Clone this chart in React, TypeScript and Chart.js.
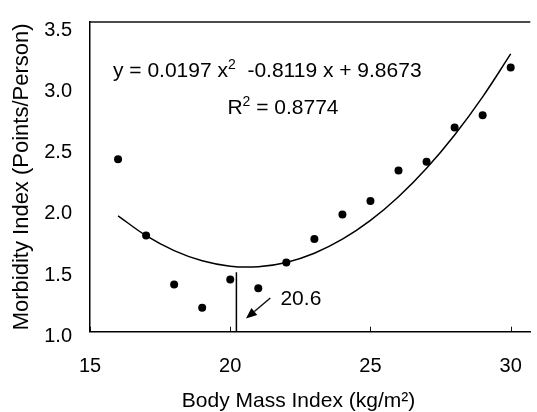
import { useEffect, useRef } from "react";
import { Chart, registerables } from "chart.js";

Chart.register(...registerables);

// ---- data ----
const bmiValues = [16, 17, 18, 19, 20, 21, 22, 23, 24, 25, 26, 27, 28, 29, 30];
const morbidityValues = [2.38, 1.76, 1.36, 1.17, 1.4, 1.33, 1.54, 1.73, 1.93, 2.04, 2.29, 2.36, 2.64, 2.74, 3.13];

// fitted curve as drawn in the reference (quadratic trend line)
const fitBmi = [16, 17, 18, 19, 20, 21, 22, 23, 24, 25, 26, 27, 28, 29, 30];
const fitValues = [1.92, 1.758, 1.636, 1.553, 1.509, 1.505, 1.54, 1.615, 1.729, 1.882, 2.075, 2.307, 2.579, 2.89, 3.24];

const xTicks = [15, 20, 25, 30];
const yTicks = [1.0, 1.5, 2.0, 2.5, 3.0, 3.5];

const xMin = 15;
const xMax = 30.7;
const yMin = 0.975;
const yMax = 3.5;

const thresholdBmi = 20.22;
const thresholdTop = 1.46;
const thresholdLabel = "20.6";
const arrowFrom = [21.43, 1.25];
const arrowTo = [20.56, 1.082];
const thresholdLabelPos = [21.79, 1.236];

const equationParts = ["y = 0.0197 x", "2", "  -0.8119 x + 9.8673"];
const equationPos = [21.32, 3.054];
const r2Parts = ["R", "2", " = 0.8774"];
const r2Pos = [21.88, 2.751];

const xTitle = "Body Mass Index (kg/m\u00B2)";
const yTitle = "Morbidity Index (Points/Person)";

const FONT = "'Liberation Sans', Arial, Helvetica, sans-serif";

function drawRich(ctx: CanvasRenderingContext2D, parts: string[], cx: number, baseline: number) {
  const main = `21px ${FONT}`;
  const sup = `14px ${FONT}`;
  const widths = parts.map((p, i) => {
    ctx.font = i % 2 === 1 ? sup : main;
    return ctx.measureText(p).width;
  });
  const total = widths.reduce((a, b) => a + b, 0);
  let x = cx - total / 2;
  ctx.textAlign = "left";
  ctx.textBaseline = "alphabetic";
  parts.forEach((p, i) => {
    const isSup = i % 2 === 1;
    ctx.font = isSup ? sup : main;
    ctx.fillText(p, x, isSup ? baseline - 8 : baseline);
    x += widths[i];
  });
}

const annotationPlugin = {
  id: "annotations",
  afterDatasetsDraw(chart: any) {
    const { ctx, chartArea, scales } = chart;
    const xs = scales.x;
    const ys = scales.y;
    ctx.save();
    ctx.strokeStyle = "#111";
    ctx.fillStyle = "#000";
    ctx.lineWidth = 1.5;
    // top frame line
    ctx.beginPath();
    ctx.moveTo(chartArea.left, chartArea.top);
    ctx.lineTo(chartArea.right, chartArea.top);
    ctx.stroke();
    // small inward ticks on the x axis
    ctx.lineWidth = 1;
    ctx.beginPath();
    for (const t of xTicks) {
      const px = Math.round(xs.getPixelForValue(t)) + 0.5;
      ctx.moveTo(px, chartArea.bottom);
      ctx.lineTo(px, chartArea.bottom - 5);
    }
    ctx.stroke();

    // equation text
    drawRich(ctx, equationParts, xs.getPixelForValue(equationPos[0]), ys.getPixelForValue(equationPos[1]));
    drawRich(ctx, r2Parts, xs.getPixelForValue(r2Pos[0]), ys.getPixelForValue(r2Pos[1]));

    // arrow
    const x0 = xs.getPixelForValue(arrowFrom[0]);
    const y0 = ys.getPixelForValue(arrowFrom[1]);
    const x1 = xs.getPixelForValue(arrowTo[0]);
    const y1 = ys.getPixelForValue(arrowTo[1]);
    const ang = Math.atan2(y1 - y0, x1 - x0);
    const headLen = 11;
    const headHalf = 4.5;
    const bx = x1 - headLen * Math.cos(ang);
    const by = y1 - headLen * Math.sin(ang);
    ctx.lineWidth = 1.5;
    ctx.beginPath();
    ctx.moveTo(x0, y0);
    ctx.lineTo(bx, by);
    ctx.stroke();
    ctx.beginPath();
    ctx.moveTo(x1, y1);
    ctx.lineTo(bx + headHalf * Math.sin(ang), by - headHalf * Math.cos(ang));
    ctx.lineTo(bx - headHalf * Math.sin(ang), by + headHalf * Math.cos(ang));
    ctx.closePath();
    ctx.fill();

    // threshold label
    ctx.font = `21px ${FONT}`;
    ctx.textAlign = "left";
    ctx.textBaseline = "middle";
    ctx.fillText(thresholdLabel, xs.getPixelForValue(thresholdLabelPos[0]), ys.getPixelForValue(thresholdLabelPos[1]));
    ctx.restore();
  },
};

export default function App() {
  const ref = useRef<HTMLCanvasElement>(null);

  useEffect(() => {
    if (!ref.current) return;
    Chart.defaults.font.family = FONT;
    Chart.defaults.color = "#000";
    const chart = new Chart(ref.current, {
      type: "scatter",
      data: {
        datasets: [
          {
            label: "Morbidity",
            data: bmiValues.map((b, i) => ({ x: b, y: morbidityValues[i] })),
            pointRadius: 4,
            pointBackgroundColor: "#000",
            pointBorderColor: "#000",
            pointBorderWidth: 0,
            showLine: false,
          },
          {
            label: "Fit",
            data: fitBmi.map((b, i) => ({ x: b, y: fitValues[i] })),
            showLine: true,
            pointRadius: 0,
            borderColor: "#000",
            borderWidth: 1.5,
            tension: 0.4,
            fill: false,
          },
          {
            label: "Threshold",
            data: [
              { x: thresholdBmi, y: yMin },
              { x: thresholdBmi, y: thresholdTop },
            ],
            showLine: true,
            pointRadius: 0,
            borderColor: "#000",
            borderWidth: 1.5,
            fill: false,
          },
        ],
      },
      options: {
        responsive: false,
        animation: false,
        devicePixelRatio: 1,
        layout: { padding: { top: 15, right: 0, bottom: 0, left: 0 } },
        plugins: {
          legend: { display: false },
          tooltip: { enabled: false },
        },
        scales: {
          x: {
            type: "linear",
            min: xMin,
            max: xMax,
            afterBuildTicks: (s: any) => {
              s.ticks = xTicks.map((v) => ({ value: v }));
            },
            afterFit: (s: any) => {
              s.height = 80.3;
            },
            ticks: {
              padding: 15,
              maxRotation: 0,
              autoSkip: false,
              color: "#000",
              font: { size: 20, family: FONT },
            },
            grid: { display: false },
            border: { display: true, color: "#000", width: 1.5 },
            title: {
              display: true,
              text: xTitle + "    ",
              color: "#000",
              font: { size: 21, family: FONT, lineHeight: 1 },
              padding: { top: 0, bottom: 0.5 },
            },
          },
          y: {
            type: "linear",
            min: yMin,
            max: yMax,
            afterBuildTicks: (s: any) => {
              s.ticks = yTicks.map((v) => ({ value: v }));
            },
            afterFit: (s: any) => {
              s.width = 90;
            },
            ticks: {
              padding: 10,
              labelOffset: 8,
              autoSkip: false,
              color: "#000",
              font: { size: 20, family: FONT },
              callback: (v: any) => Number(v).toFixed(1),
            },
            grid: { display: false },
            border: { display: true, color: "#000", width: 1.5 },
            title: {
              display: true,
              text: yTitle,
              color: "#000",
              font: { size: 22, family: FONT, lineHeight: 1 },
              padding: { top: 11, bottom: 0 },
            },
          },
        },
      },
      plugins: [annotationPlugin],
    } as any);
    return () => chart.destroy();
  }, []);

  return (
    <div style={{ position: "absolute", left: 0, top: 0, width: 537, height: 412, background: "#fff" }}>
      <canvas ref={ref} width={537} height={412} style={{ display: "block", width: 537, height: 412 }} />
    </div>
  );
}
